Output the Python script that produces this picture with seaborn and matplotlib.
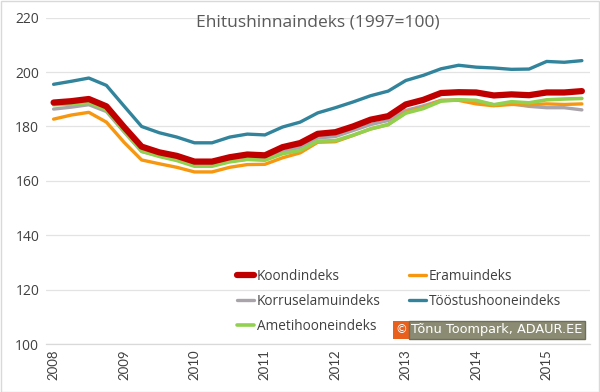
import matplotlib
matplotlib.use("Agg")
import matplotlib.pyplot as plt
import seaborn as sns
import pandas as pd

# kvartalid 2008 I - 2015 III
aastad = ["2008", "2009", "2010", "2011", "2012", "2013", "2014", "2015"]
kvartal = list(range(31))

koond = [188.8, 189.3, 190.1, 187.4, 179.8, 172.6, 170.5, 169.2, 167.1, 167.1,
         168.7, 169.7, 169.4, 172.4, 173.9, 177.3, 177.9, 180.0, 182.5, 183.8,
         188.1, 189.8, 192.3, 192.6, 192.5, 191.4, 191.8, 191.5, 192.5, 192.5, 193.0]
eramu = [182.7, 184.2, 185.2, 181.6, 174.2, 167.7, 166.3, 165.0, 163.3, 163.3,
         165.0, 166.0, 166.1, 168.5, 170.3, 174.2, 174.4, 176.7, 179.1, 180.7,
         185.2, 186.9, 189.6, 189.6, 188.3, 187.6, 188.1, 188.0, 188.3, 188.1, 188.3]
korrus = [186.4, 187.1, 188.0, 185.5, 178.0, 170.8, 169.2, 167.7, 165.8, 165.8,
          167.2, 168.0, 168.0, 170.7, 172.4, 175.8, 176.3, 178.5, 180.7, 182.2,
          185.9, 187.6, 189.6, 189.8, 189.3, 188.0, 188.3, 187.4, 186.9, 186.9, 186.1]
toostus = [195.5, 196.6, 197.8, 195.1, 187.5, 180.0, 177.7, 176.1, 174.0, 174.0,
           176.1, 177.2, 176.9, 179.8, 181.6, 185.0, 186.9, 189.0, 191.3, 193.0,
           196.9, 198.8, 201.2, 202.5, 201.8, 201.5, 201.0, 201.1, 203.9, 203.6, 204.2]
ameti = [188.0, 188.2, 188.8, 186.1, 178.3, 170.9, 169.0, 167.5, 165.4, 165.4,
         167.0, 167.9, 167.6, 170.0, 171.2, 174.6, 174.8, 176.8, 179.1, 180.7,
         184.9, 186.6, 189.3, 189.8, 189.6, 188.0, 189.1, 188.7, 189.8, 190.1, 190.3]

nimed = ["Koondindeks", "Eramuindeks", "Korruselamuindeks",
         "Tööstushooneindeks", "Ametihooneindeks"]
varvid = ["#C00000", "#F7960F", "#A9A3AA", "#31849B", "#92D050"]
laiused = [4.5, 2.4, 2.4, 2.4, 2.6]
seeriad = [koond, eramu, korrus, toostus, ameti]

sns.set_theme(style="white")
plt.rcParams["font.family"] = ["Open Sans", "DejaVu Sans"]

fig = plt.figure(figsize=(6.0, 3.92), dpi=100)
ax = fig.add_axes([0.077, 0.122, 0.906, 0.833])

# joonistamise järjekord: hall, oranž, roheline, sinine, punane peal
jarjekord = [2, 1, 4, 3, 0]
for i in jarjekord:
    df = pd.DataFrame({"kvartal": kvartal, "indeks": seeriad[i]})
    sns.lineplot(data=df, x="kvartal", y="indeks", color=varvid[i],
                 linewidth=laiused[i], ax=ax, label=nimed[i],
                 solid_capstyle="round", solid_joinstyle="round")

ax.set_ylim(100, 220)
ax.set_yticks(range(100, 221, 20))
ax.set_xlim(-0.42, 30.45)
ax.set_xticks(range(0, 31, 4))
ax.set_xticklabels(aastad, rotation=90)
ax.set_xlabel("")
ax.set_ylabel("")
ax.tick_params(axis="y", labelsize=10, colors="#404040", length=0, pad=5)
ax.tick_params(axis="x", labelsize=9.5, colors="#404040", length=0, pad=4)
for lab in ax.get_xticklabels():
    lab.set_family(["Lato", "DejaVu Sans"])
ax.grid(axis="y", color="#E3E3E3", linewidth=0.9)
for s in ["top", "right", "left"]:
    ax.spines[s].set_visible(False)
ax.spines["bottom"].set_color("#D9D9D9")
ax.spines["bottom"].set_linewidth(0.9)

ax.text(0.5, 0.985, "Ehitushinnaindeks (1997=100)", transform=ax.transAxes,
        ha="center", va="center", fontsize=12.5, color="#595959")

kasitsed, sildid = ax.get_legend_handles_labels()
kaart = dict(zip(sildid, kasitsed))
uus_jarjekord = ["Koondindeks", "Korruselamuindeks", "Ametihooneindeks",
                 "Eramuindeks", "Tööstushooneindeks"]
ax.legend([kaart[n] for n in uus_jarjekord], uus_jarjekord, ncol=2,
          loc="upper left", bbox_to_anchor=(230 / 600, 1 - 262 / 392),
          bbox_transform=fig.transFigure, frameon=False, fontsize=9.8,
          handlelength=1.25, handletextpad=0.2, columnspacing=2.1,
          labelspacing=0.75, labelcolor="#404040", borderpad=0)

# autoriõiguse märge
fig.text(395 / 600, 1 - 330 / 392, "©", ha="left", va="center", fontsize=8.5,
         color="white", family=["DejaVu Sans"],
         bbox=dict(boxstyle="square,pad=0.2", fc="#E8601C", ec="none"))
fig.text(411 / 600, 1 - 330 / 392, "Tõnu Toompark, ADAUR.EE", ha="left",
         va="center", fontsize=9.3, color="white", family=["DejaVu Sans"],
         bbox=dict(boxstyle="square,pad=0.18", fc="#8B8B73", ec="#6E6E5A"))

fig.patches.append(plt.Rectangle((0.001, 0.001), 0.998, 0.997,
                                 transform=fig.transFigure, fill=False,
                                 ec="#D9D9D9", lw=1))

fig.savefig("out.png", dpi=100)
